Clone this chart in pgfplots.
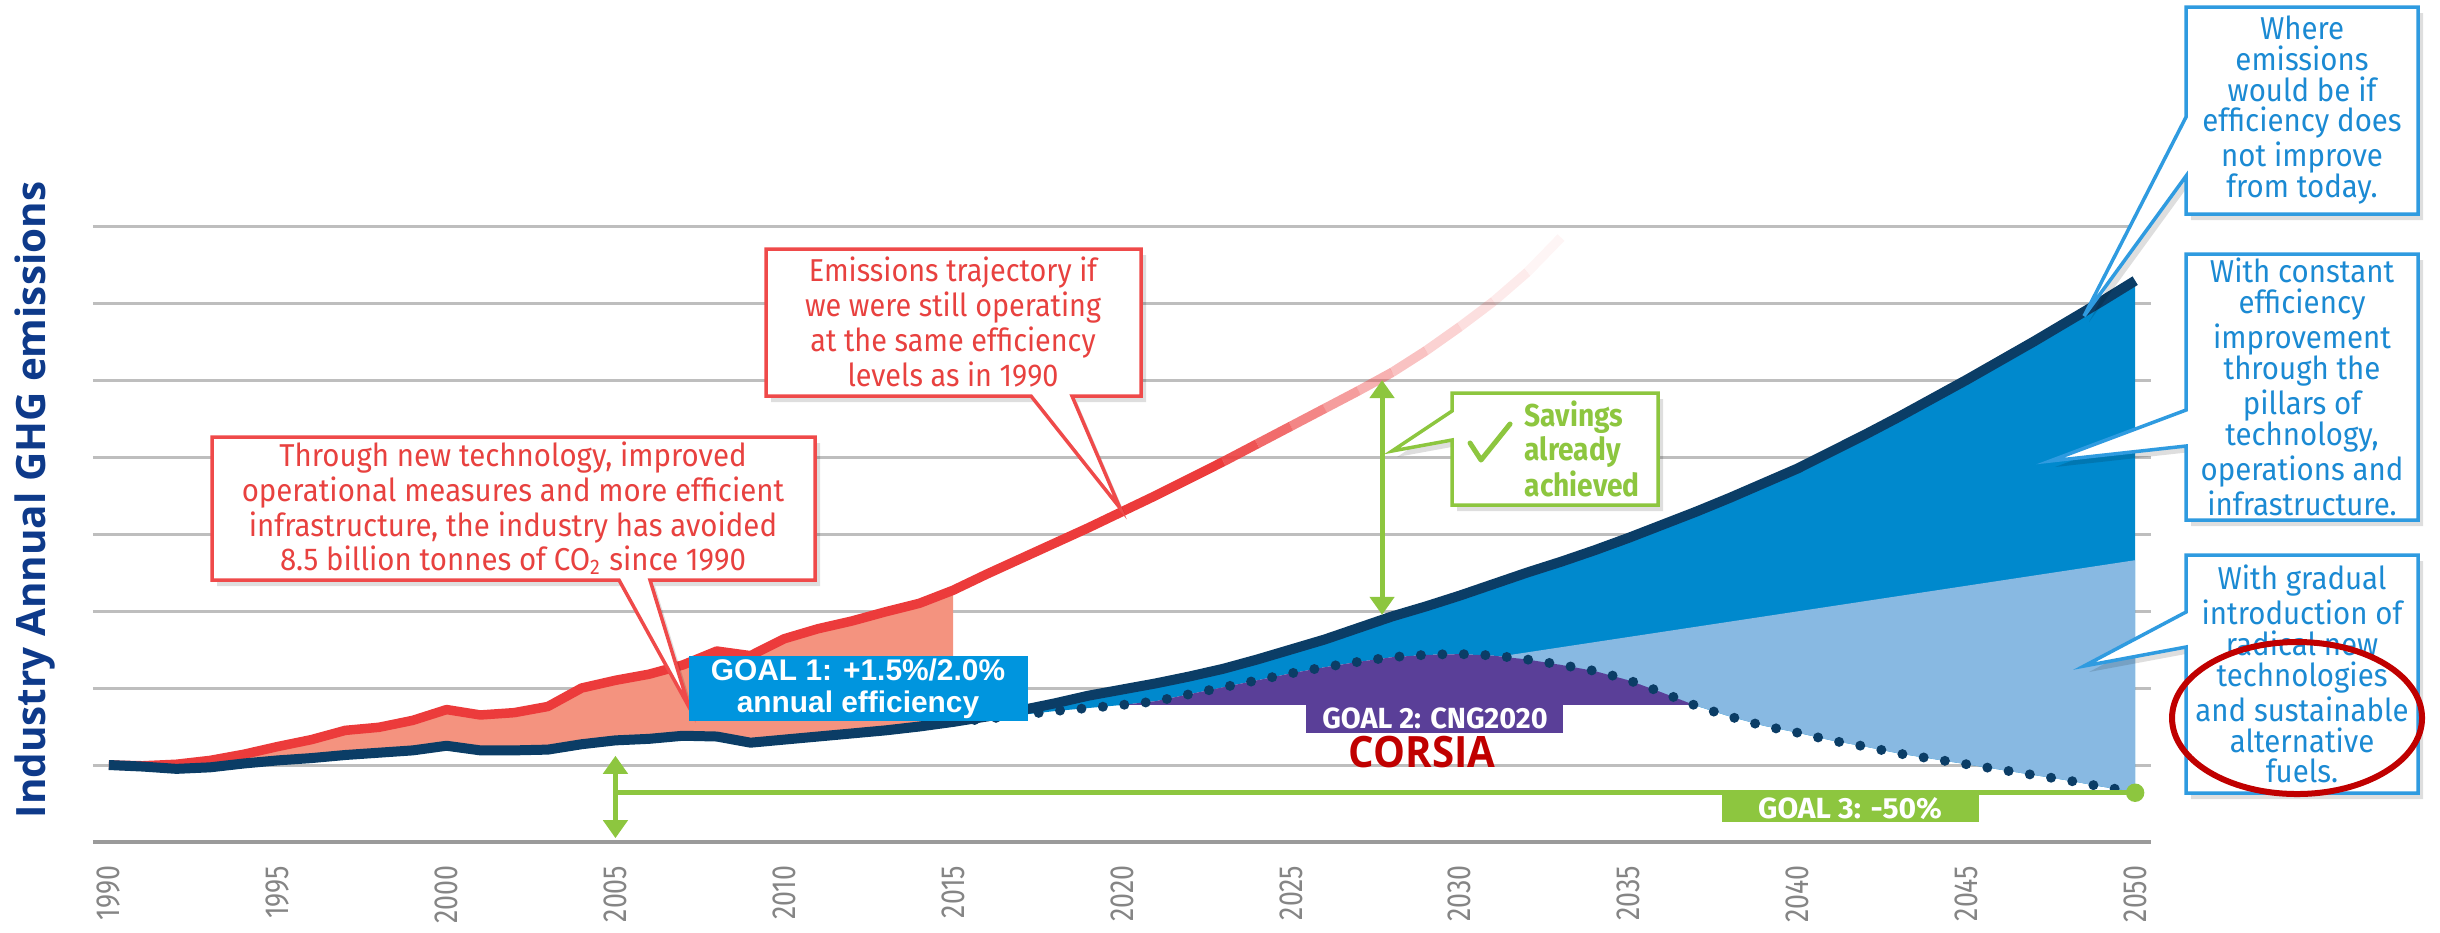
\documentclass[border=0pt]{standalone}
\usepackage{pgfplots}
\pgfplotsset{compat=1.18}
\usetikzlibrary{arrows.meta}
\usepackage{fontspec}
\setmainfont{Fira Sans}
\newfontfamily\calAfont[FakeStretch=0.93]{Fira Sans}
\newfontfamily\calBfont[FakeStretch=0.91]{Fira Sans}
\newfontfamily\bluefont[FakeStretch=0.93]{Fira Sans}
\newfontfamily\savfont[FakeStretch=0.89]{Fira Sans}
\newfontfamily\goaltwofont[FakeStretch=0.99]{Fira Sans}
\newfontfamily\goalthreefont[FakeStretch=1.03]{Fira Sans}
\newfontfamily\tickfont[FakeStretch=0.8]{Fira Sans}
\newfontfamily\arialfont{Liberation Sans}
\newfontfamily\opensans{Open Sans}
\newfontfamily\corsiafont[FakeStretch=0.93]{Open Sans}

\definecolor{redline}{HTML}{EC3B3B}
\definecolor{salmon}{HTML}{F4937F}
\definecolor{navy}{HTML}{0B3D66}
\definecolor{bluefill}{HTML}{0089CD}
\definecolor{lightblue}{HTML}{88B9E2}
\definecolor{cngpurple}{HTML}{5A3F98}
\definecolor{goalgreen}{HTML}{8DC63F}
\definecolor{goalblue}{HTML}{0095DE}
\definecolor{calred}{HTML}{EF4A4A}
\definecolor{calredtext}{HTML}{E8413F}
\definecolor{calblue}{HTML}{2F9BE0}
\definecolor{calbluetext}{HTML}{1B8AD3}
\definecolor{ylab}{HTML}{0E3A8A}
\definecolor{corsia}{HTML}{C00000}
\definecolor{gridgray}{HTML}{BEBEBE}
\definecolor{axisgray}{HTML}{9A9A9A}
\definecolor{tickgray}{HTML}{858585}

\begin{document}
\begin{tikzpicture}
\useasboundingbox (0,0) rectangle (244mm,-93.2mm);
\begin{axis}[
  at={(9.3mm,-84.2mm)}, anchor=south west,
  scale only axis, width=205.8mm, height=61.6mm,
  xmin=1989.53, xmax=2050.47, ymin=0, ymax=8,
  axis line style={draw=none},
  major tick length=0pt,
  xtick={1990,1995,...,2050},
  ytick={1,...,8}, yticklabels={},
  ymajorgrids, grid style={color=gridgray, line width=0.3mm},
  extra y ticks={0}, extra y tick labels={},
  extra y tick style={grid style={color=axisgray, line width=0.45mm}},
  xticklabel style={rotate=90, anchor=east, inner sep=0pt,
    font=\tickfont\fontsize{9.5}{10}\selectfont, text=tickgray},
  xticklabel shift=2.3mm,
  /pgf/number format/1000 sep={},
  /pgf/number format/assume math mode=true,
  clip=false,
]
% salmon area: 1990-efficiency trajectory vs actual emissions
\addplot[fill=salmon, draw=none] coordinates {
 (1990,1.00)(1991,0.99)(1992,1.01)(1993,1.06)(1994,1.14)(1995,1.24)(1996,1.33)(1997,1.45)(1998,1.49)(1999,1.58)
 (2000,1.72)(2001,1.65)(2002,1.68)(2003,1.76)(2004,2.00)(2005,2.10)(2006,2.18)(2007,2.30)(2008,2.48)(2009,2.42)
 (2010,2.64)(2011,2.77)(2012,2.87)(2013,2.99)(2014,3.10)(2015,3.27)
 (2015,1.56)(2014,1.50)(2013,1.45)(2012,1.41)(2011,1.37)(2010,1.33)(2009,1.29)(2008,1.37)(2007,1.38)(2006,1.34)
 (2005,1.32)(2004,1.27)(2003,1.20)(2002,1.19)(2001,1.19)(2000,1.25)(1999,1.19)(1998,1.16)(1997,1.13)(1996,1.09)
 (1995,1.06)(1994,1.02)(1993,0.97)(1992,0.95)(1991,0.98)(1990,1.00)} -- cycle;
% blue area: constant efficiency improvement
\addplot[fill=bluefill, draw=none] coordinates {
 (2015,1.56)(2016,1.63)(2017,1.71)(2018,1.80)(2019,1.90)(2020,1.98)(2021,2.06)(2022,2.15)(2023,2.25)(2024,2.37)
 (2025,2.50)(2026,2.63)(2027,2.78)(2028,2.93)(2029,3.06)(2030,3.20)(2031,3.35)(2032,3.50)(2033,3.64)(2034,3.79)
 (2035,3.95)(2036,4.12)(2037,4.29)(2038,4.47)(2039,4.66)(2040,4.85)(2041,5.07)(2042,5.29)(2043,5.52)(2044,5.76)
 (2045,6.00)(2046,6.25)(2047,6.50)(2048,6.76)(2049,7.02)(2050,7.29)
 (2050,0.65)(2049,0.72)(2048,0.80)(2047,0.87)(2046,0.94)(2045,1.01)(2044,1.08)(2043,1.15)(2042,1.24)(2041,1.32)
 (2040,1.42)(2039,1.51)(2038,1.63)(2037,1.77)(2036,1.94)(2035,2.10)(2034,2.22)(2033,2.30)(2032,2.37)(2031,2.42)
 (2030,2.44)(2029,2.43)(2028,2.40)(2027,2.34)(2026,2.27)(2025,2.19)(2024,2.10)(2023,2.01)(2022,1.92)(2021,1.83)
 (2020,1.78)(2019,1.74)(2018,1.70)(2017,1.65)(2016,1.60)(2015,1.56)} -- cycle;
% light blue area: radical new technologies and sustainable fuels
\addplot[fill=lightblue, draw=none] coordinates {
 (2031.2,2.41)(2050,3.66)
 (2050,0.65)(2049,0.72)(2048,0.80)(2047,0.87)(2046,0.94)(2045,1.01)(2044,1.08)(2043,1.15)(2042,1.24)(2041,1.32)
 (2040,1.42)(2039,1.51)(2038,1.63)(2037,1.77)(2036,1.94)(2035,2.10)(2034,2.22)(2033,2.30)(2032,2.37)(2031.2,2.41)} -- cycle;
% purple area: carbon neutral growth from 2020
\addplot[fill=cngpurple, draw=none] coordinates {
 (2020,1.78)(2021,1.83)(2022,1.92)(2023,2.01)(2024,2.10)(2025,2.19)(2026,2.27)(2027,2.34)(2028,2.40)(2029,2.43)
 (2030,2.44)(2031,2.42)(2032,2.37)(2033,2.30)(2034,2.22)(2035,2.10)(2036,1.94)(2036.94,1.78)} -- cycle;
% red trajectory line
\addplot[redline, line width=0.95mm, line join=round] coordinates {
 (1990,1.00)(1991,0.99)(1992,1.01)(1993,1.06)(1994,1.14)(1995,1.24)(1996,1.33)(1997,1.45)(1998,1.49)(1999,1.58)
 (2000,1.72)(2001,1.65)(2002,1.68)(2003,1.76)(2004,2.00)(2005,2.10)(2006,2.18)(2007,2.30)(2008,2.48)(2009,2.42)
 (2010,2.64)(2011,2.77)(2012,2.87)(2013,2.99)(2014,3.10)(2015,3.27)(2016,3.48)(2017,3.68)(2018,3.88)(2019,4.08)
 (2020,4.29)(2021,4.50)(2022,4.72)(2023,4.94)};
\addplot[redline, opacity=0.88, line width=0.95mm] coordinates {(2023,4.94)(2024,5.17)};
\addplot[redline, opacity=0.75, line width=0.95mm] coordinates {(2024,5.17)(2025,5.40)};
\addplot[redline, opacity=0.62, line width=0.95mm] coordinates {(2025,5.40)(2026,5.63)};
\addplot[redline, opacity=0.50, line width=0.95mm] coordinates {(2026,5.63)(2027,5.86)};
\addplot[redline, opacity=0.40, line width=0.95mm] coordinates {(2027,5.86)(2028,6.10)};
\addplot[redline, opacity=0.31, line width=0.95mm] coordinates {(2028,6.10)(2029,6.38)};
\addplot[redline, opacity=0.23, line width=0.95mm] coordinates {(2029,6.38)(2030,6.69)};
\addplot[redline, opacity=0.16, line width=0.95mm] coordinates {(2030,6.69)(2031,7.02)};
\addplot[redline, opacity=0.10, line width=0.95mm] coordinates {(2031,7.02)(2032,7.40)};
\addplot[redline, opacity=0.05, line width=0.95mm] coordinates {(2032,7.40)(2033,7.85)};
% actual / no-improvement emissions (navy)
\addplot[navy, line width=1.0mm, line join=round] coordinates {
 (1990,1.00)(1991,0.98)(1992,0.95)(1993,0.97)(1994,1.02)(1995,1.06)(1996,1.09)(1997,1.13)(1998,1.16)(1999,1.19)
 (2000,1.25)(2001,1.19)(2002,1.19)(2003,1.20)(2004,1.27)(2005,1.32)(2006,1.34)(2007,1.38)(2008,1.37)(2009,1.29)
 (2010,1.33)(2011,1.37)(2012,1.41)(2013,1.45)(2014,1.50)(2015,1.56)(2016,1.63)(2017,1.71)(2018,1.80)(2019,1.90)
 (2020,1.98)(2021,2.06)(2022,2.15)(2023,2.25)(2024,2.37)(2025,2.50)(2026,2.63)(2027,2.78)(2028,2.93)(2029,3.06)
 (2030,3.20)(2031,3.35)(2032,3.50)(2033,3.64)(2034,3.79)(2035,3.95)(2036,4.12)(2037,4.29)(2038,4.47)(2039,4.66)
 (2040,4.85)(2041,5.07)(2042,5.29)(2043,5.52)(2044,5.76)(2045,6.00)(2046,6.25)(2047,6.50)(2048,6.76)(2049,7.02)
 (2050,7.29)};
% dotted pathway
\addplot[navy, line width=1.0mm, line cap=round, dash pattern=on 0pt off 2.15mm, smooth] coordinates {
 (2015,1.56)(2016,1.60)(2017,1.65)(2018,1.70)(2019,1.74)(2020,1.78)(2021,1.83)(2022,1.92)(2023,2.01)(2024,2.10)
 (2025,2.19)(2026,2.27)(2027,2.34)(2028,2.40)(2029,2.43)(2030,2.44)(2031,2.42)(2032,2.37)(2033,2.30)(2034,2.22)
 (2035,2.10)(2036,1.94)(2037,1.77)(2038,1.63)(2039,1.51)(2040,1.42)(2041,1.32)(2042,1.24)(2043,1.15)(2044,1.08)
 (2045,1.01)(2046,0.94)(2047,0.87)(2048,0.80)(2049,0.72)(2050,0.65)};
% goal 3 line and arrows
\addplot[goalgreen, line width=0.5mm] coordinates {(2005,0.64)(2050,0.64)};
\addplot[goalgreen, line width=0.5mm, arrows={Triangle[length=1.8mm,width=2.4mm]-Triangle[length=1.8mm,width=2.4mm]}] coordinates {(2005,0.05)(2005,1.12)};
\addplot[goalgreen, line width=0.5mm, arrows={Triangle[length=1.8mm,width=2.4mm]-Triangle[length=1.8mm,width=2.4mm]}] coordinates {(2027.7,2.95)(2027.7,6.0)};
\addplot[goalgreen, only marks, mark=*, mark size=0.85mm] coordinates {(2050,0.64)};
\end{axis}

\begin{scope}[x=0.1mm,y=-0.1mm]
% red callout 1
\fill[black, opacity=0.13, xshift=0.5mm, yshift=-0.6mm] (212,437)--(815,437)--(815,580)--(650,580)--(689,707)--(619,580)--(212,580)--cycle;
\filldraw[fill=white, draw=calred, line width=0.35mm, line join=miter] (212,437)--(815,437)--(815,580)--(650,580)--(689,707)--(619,580)--(212,580)--cycle;
\node[align=center, inner sep=0pt, text=calredtext, font=\calAfont\fontsize{9}{8.8}\selectfont] at (513,508)
 {Through new technology, improved\\operational measures and more efficient\\infrastructure, the industry has avoided\\8.5 billion tonnes of CO\textsubscript{2} since 1990};
% red callout 2
\fill[black, opacity=0.13, xshift=0.5mm, yshift=-0.6mm] (766,249)--(1141,249)--(1141,396)--(1072,396)--(1120,508)--(1031,396)--(766,396)--cycle;
\filldraw[fill=white, draw=calred, line width=0.35mm] (766,249)--(1141,249)--(1141,396)--(1072,396)--(1120,508)--(1031,396)--(766,396)--cycle;
\node[align=center, inner sep=0pt, text=calredtext, font=\calBfont\fontsize{9}{8.8}\selectfont] at (953,322)
 {Emissions trajectory if\\we were still operating\\at the same efficiency\\levels as in 1990};
% savings callout
\fill[black, opacity=0.13, xshift=0.5mm, yshift=-0.6mm] (1452,393)--(1658,393)--(1658,505)--(1452,505)--(1452,440)--(1392,451)--(1452,411)--cycle;
\filldraw[fill=white, draw=goalgreen, line width=0.35mm] (1452,393)--(1658,393)--(1658,505)--(1452,505)--(1452,440)--(1392,451)--(1452,411)--cycle;
\draw[goalgreen, line width=0.5mm, line cap=round, line join=round] (1470,443)--(1481,460)--(1510,424);
\node[align=left, anchor=west, inner sep=0pt, text=goalgreen, font=\savfont\bfseries\fontsize{9}{8.8}\selectfont] at (1524,449)
 {Savings\\already\\achieved};
% blue callouts
\fill[black, opacity=0.13, xshift=0.5mm, yshift=-0.6mm] (2186,7)--(2418,7)--(2418,214)--(2186,214)--(2186,176)--(2084,316)--(2186,117)--cycle;
\filldraw[fill=white, draw=calblue, line width=0.35mm] (2186,7)--(2418,7)--(2418,214)--(2186,214)--(2186,176)--(2084,316)--(2186,117)--cycle;
\node[align=center, inner sep=0pt, text=calbluetext, font=\bluefont\fontsize{9}{8.8}\selectfont] at (2302,110)
 {Where\\emissions\\would be if\\efficiency does\\not improve\\from today.};
\fill[black, opacity=0.13, xshift=0.5mm, yshift=-0.6mm] (2186,254)--(2418,254)--(2418,520)--(2186,520)--(2186,446)--(2050,461)--(2186,410)--cycle;
\filldraw[fill=white, draw=calblue, line width=0.35mm] (2186,254)--(2418,254)--(2418,520)--(2186,520)--(2186,446)--(2050,461)--(2186,410)--cycle;
\node[align=center, inner sep=0pt, text=calbluetext, font=\bluefont\fontsize{9}{8.8}\selectfont] at (2302,387)
 {With constant\\efficiency\\improvement\\through the\\pillars of\\technology,\\operations and\\infrastructure.};
\fill[black, opacity=0.13, xshift=0.5mm, yshift=-0.6mm] (2186,555)--(2418,555)--(2418,793)--(2186,793)--(2186,647)--(2084,666)--(2186,612)--cycle;
\filldraw[fill=white, draw=calblue, line width=0.35mm] (2186,555)--(2418,555)--(2418,793)--(2186,793)--(2186,647)--(2084,666)--(2186,612)--cycle;
\node[align=center, inner sep=0pt, text=calbluetext, font=\bluefont\fontsize{9}{8.8}\selectfont] at (2302,674)
 {With gradual\\introduction of\\radical new\\technologies\\and sustainable\\alternative\\fuels.};
% goal boxes
\fill[goalblue] (689,656) rectangle (1028,721);
\node[align=center, inner sep=0pt, text=white, font=\arialfont\bfseries\fontsize{8.5}{9}\selectfont] at (858,689)
 {GOAL 1: +1.5\%/2.0\%\\annual efficiency};
\fill[cngpurple] (1306,703) rectangle (1563,733);
\node[inner sep=0pt, text=white, font=\goaltwofont\bfseries\fontsize{8.3}{9}\selectfont] at (1435,718) {GOAL 2: CNG2020};
\node[inner sep=0pt, text=corsia, font=\corsiafont\bfseries\fontsize{12.3}{13}\selectfont] at (1422,752) {CORSIA};
\fill[goalgreen] (1722,795) rectangle (1979,822);
\node[inner sep=0pt, text=white, font=\goalthreefont\bfseries\fontsize{8.3}{9}\selectfont] at (1850,809) {GOAL 3: -50\%};
% red ellipse
\draw[corsia, line width=0.6mm] (2297,718) ellipse [x radius=12.5mm, y radius=7.6mm];
% y label
\node[rotate=90, inner sep=0pt, text=ylab, font=\opensans\bfseries\fontsize{11.5}{12}\selectfont] at (35,500)
 {Industry Annual GHG emissions};
\end{scope}
\end{tikzpicture}
\end{document}
